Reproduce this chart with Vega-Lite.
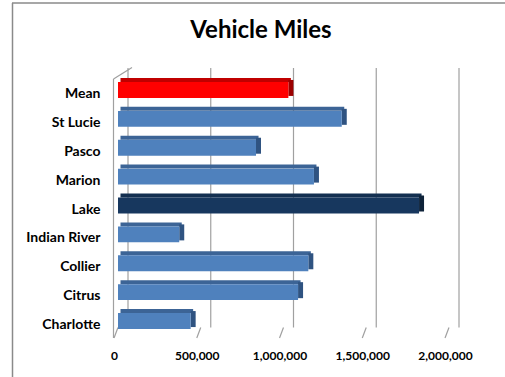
{
  "$schema": "https://vega.github.io/schema/vega-lite/v6.json",
  "autosize": "none",
  "width": 331,
  "height": 260,
  "padding": {"left": 118, "top": 75.5, "right": 56, "bottom": 41.5},
  "background": "white",
  "title": {
    "text": "Vehicle Miles",
    "font": "Lato",
    "fontSize": 24,
    "fontWeight": "bold",
    "color": "black",
    "anchor": "middle",
    "baseline": "alphabetic",
    "offset": -37,
    "dx": -22.5,
    "dy": 22.5
  },
  "datasets": {
    "miles": [
      {"name": "Mean", "kind": "mean", "miles": 1029500},
      {"name": "St Lucie", "kind": "county", "miles": 1352000},
      {"name": "Pasco", "kind": "county", "miles": 834000},
      {"name": "Marion", "kind": "county", "miles": 1184000},
      {"name": "Lake", "kind": "highlight", "miles": 1819000},
      {"name": "Indian River", "kind": "county", "miles": 370000},
      {"name": "Collier", "kind": "county", "miles": 1150000},
      {"name": "Citrus", "kind": "county", "miles": 1088000},
      {"name": "Charlotte", "kind": "county", "miles": 439000}
    ],
    "ticks": [{"t": 0}, {"t": 500000}, {"t": 1000000}, {"t": 1500000}, {"t": 2000000}]
  },
  "layer": [
    {
      "data": {"name": "ticks"},
      "transform": [{"filter": "datum.t === 0"}],
      "mark": {"type": "rule", "color": "#8a8a8a", "strokeWidth": 1.5},
      "encoding": {
        "x": {"value": -105.5},
        "y": {"value": -72.5},
        "y2": {"value": 305}
      }
    },
    {
      "data": {"name": "ticks"},
      "transform": [{"filter": "datum.t === 0"}],
      "mark": {"type": "rule", "color": "#8a8a8a", "strokeWidth": 1.5},
      "encoding": {
        "x": {"value": -106},
        "x2": {"value": 400},
        "y": {"value": -72.5}
      }
    },
    {
      "data": {"name": "ticks"},
      "mark": {"type": "rule", "color": "#a0a0a0", "strokeWidth": 1.2},
      "encoding": {
        "x": {
          "field": "t",
          "type": "quantitative",
          "scale": {"domain": [0, 2000000]},
          "axis": {"format": ",d", "values": [0, 500000, 1000000, 1500000, 2000000]}
        },
        "xOffset": {"value": 10},
        "y": {"value": -7.5},
        "y2": {"value": 252}
      }
    },
    {
      "data": {"name": "ticks"},
      "mark": {"type": "rule", "color": "#a0a0a0", "strokeWidth": 1.2},
      "encoding": {
        "x": {"field": "t", "type": "quantitative", "axis": {"format": ",d", "values": [0, 500000, 1000000, 1500000, 2000000]}},
        "x2": {"field": "t"},
        "xOffset": {"value": -4},
        "y": {"value": 262.5},
        "y2": {"value": 252}
      }
    },
    {
      "data": {"name": "ticks"},
      "transform": [{"filter": "datum.t === 0"}],
      "mark": {"type": "rule", "color": "#a0a0a0", "strokeWidth": 1.2, "x2Offset": 14},
      "encoding": {
        "x": {"field": "t", "type": "quantitative", "axis": {"format": ",d", "values": [0, 500000, 1000000, 1500000, 2000000]}},
        "xOffset": {"value": -4.5},
        "y": {"value": 3.5},
        "y2": {"value": 262.5}
      }
    },
    {
      "data": {"name": "ticks"},
      "transform": [{"filter": "datum.t === 0"}],
      "mark": {"type": "rule", "color": "#a0a0a0", "strokeWidth": 1.2, "x2Offset": 14},
      "encoding": {
        "x": {"field": "t", "type": "quantitative", "axis": {"format": ",d", "values": [0, 500000, 1000000, 1500000, 2000000]}},
        "x2": {"field": "t"},
        "xOffset": {"value": -4.5},
        "y": {"value": 3.5},
        "y2": {"value": -8}
      }
    },
    {
      "data": {"name": "miles"},
      "layer": [
        {
          "mark": {"type": "rule", "strokeWidth": 4, "strokeCap": "butt", "xOffset": 2.5, "x2Offset": 2.5, "yOffset": -10},
          "encoding": {
            "x": {"field": "miles", "type": "quantitative", "axis": {"format": ",d", "values": [0, 500000, 1000000, 1500000, 2000000]}},
            "x2": {"value": 0},
            "color": {
              "condition": [
                {"test": "datum.kind === 'mean'", "value": "#c00000"},
                {"test": "datum.kind === 'highlight'", "value": "#132f50"}
              ],
              "value": "#3c6496"
            }
          }
        },
        {
          "mark": {"type": "rule", "strokeWidth": 16, "strokeCap": "butt", "x2Offset": 5, "yOffset": -2},
          "encoding": {
            "x": {"field": "miles", "type": "quantitative", "axis": {"format": ",d", "values": [0, 500000, 1000000, 1500000, 2000000]}},
            "x2": {"field": "miles"},
            "color": {
              "condition": [
                {"test": "datum.kind === 'mean'", "value": "#9c0000"},
                {"test": "datum.kind === 'highlight'", "value": "#0e2239"}
              ],
              "value": "#2f5381"
            }
          }
        },
        {
          "mark": {"type": "bar"},
          "encoding": {
            "x": {
              "field": "miles",
              "type": "quantitative",
              "stack": null,
              "axis": {"format": ",d", "values": [0, 500000, 1000000, 1500000, 2000000]}
            },
            "fill": {
              "condition": [
                {"test": "datum.kind === 'mean'", "value": "#ff0000"},
                {"test": "datum.kind === 'highlight'", "value": "#17375e"}
              ],
              "value": "#4f81bd"
            }
          }
        }
      ],
      "encoding": {
        "y": {
          "field": "name",
          "type": "nominal",
          "sort": null,
          "scale": {"paddingInner": 0.45, "paddingOuter": 0.225},
          "axis": {"title": null, "labelOffset": 4}
        }
      }
    }
  ],
  "config": {
    "view": {"stroke": null},
    "axisX": {
      "title": null,
      "domain": false,
      "ticks": false,
      "grid": false,
      "labelPadding": 15,
      "labelOffset": -4,
      "labelFlush": false,
      "labelFont": "Lato",
      "labelFontSize": 12,
      "labelFontWeight": "bold",
      "labelColor": "black",
      "labelOverlap": false
    },
    "axisY": {
      "title": null,
      "domain": false,
      "ticks": false,
      "grid": false,
      "labelPadding": 18,
      "labelFont": "Lato",
      "labelFontSize": 14,
      "labelFontWeight": "bold",
      "labelColor": "black"
    }
  }
}
